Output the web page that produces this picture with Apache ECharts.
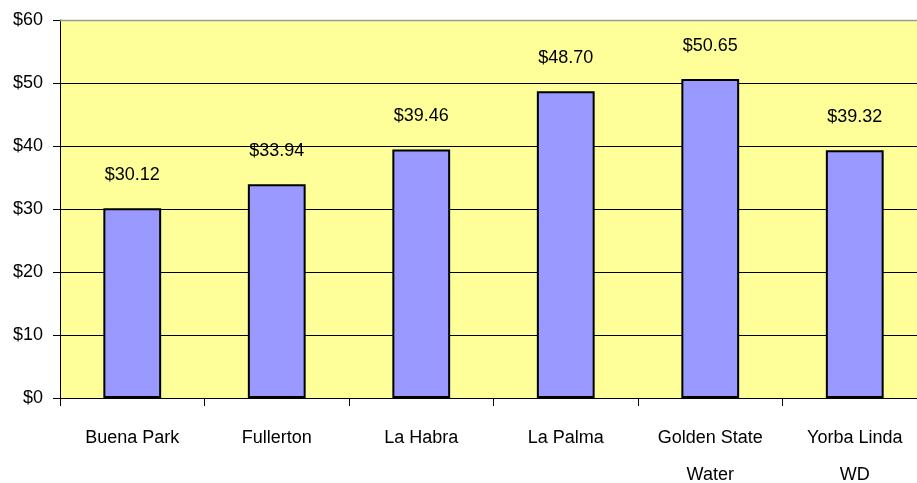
<!DOCTYPE html>
<html>
<head>
<meta charset="utf-8">
<script src="https://cdn.jsdelivr.net/npm/echarts@6/dist/echarts.min.js"></script>
<style>
html,body{margin:0;padding:0;background:#fff;}
#c{width:917px;height:483px;}
</style>
</head>
<body>
<div id="c"></div>
<script>
var categories = ["Buena Park", "Fullerton", "La Habra", "La Palma", "Golden State\nWater", "Yorba Linda\nWD"];
var values = [30.12, 33.94, 39.46, 48.70, 50.65, 39.32];
var yTicks = [0, 10, 20, 30, 40, 50, 60];

var FONT = '"Liberation Sans Narrow", "Arial Narrow", "Liberation Sans", sans-serif';
var chart = echarts.init(document.getElementById('c'));
chart.setOption({
  animation: false,
  grid: {left: 60, top: 20, right: -10, bottom: 85, show: true, backgroundColor: '#FFFF99', borderWidth: 0,
    containLabel: false, outerBoundsMode: 'none'},
  xAxis: {
    type: 'category',
    data: categories,
    axisLine: {lineStyle: {color: '#000', width: 1}},
    axisTick: {show: true, length: 8, lineStyle: {color: '#000'}},
    axisLabel: {color: '#000', fontFamily: FONT, fontSize: 18, margin: 22, lineHeight: 37}
  },
  yAxis: {
    type: 'value',
    min: yTicks[0], max: yTicks[yTicks.length - 1], interval: 10,
    axisLine: {show: true, lineStyle: {color: '#000', width: 1}},
    axisTick: {show: true, length: 7, lineStyle: {color: '#000'}},
    splitLine: {show: true, lineStyle: {color: '#000', width: 1}},
    axisLabel: {color: '#000', fontFamily: FONT, fontSize: 18, margin: 17,
      formatter: function (v) { return '$' + v; }}
  },
  series: [{
    type: 'bar',
    data: values,
    barWidth: '40%',
    itemStyle: {color: '#9999FF', borderColor: '#000', borderWidth: 2},
    label: {show: true, position: 'top', distance: 24, color: '#000', fontFamily: FONT, fontSize: 18,
      formatter: function (p) { return '$' + p.value.toFixed(2); }}
  }],
  graphic: [{
    type: 'line', shape: {x1: 60, y1: 20.5, x2: 917, y2: 20.5},
    style: {stroke: '#999', lineWidth: 1.5}, z: 10
  }]
});
</script>
</body>
</html>
